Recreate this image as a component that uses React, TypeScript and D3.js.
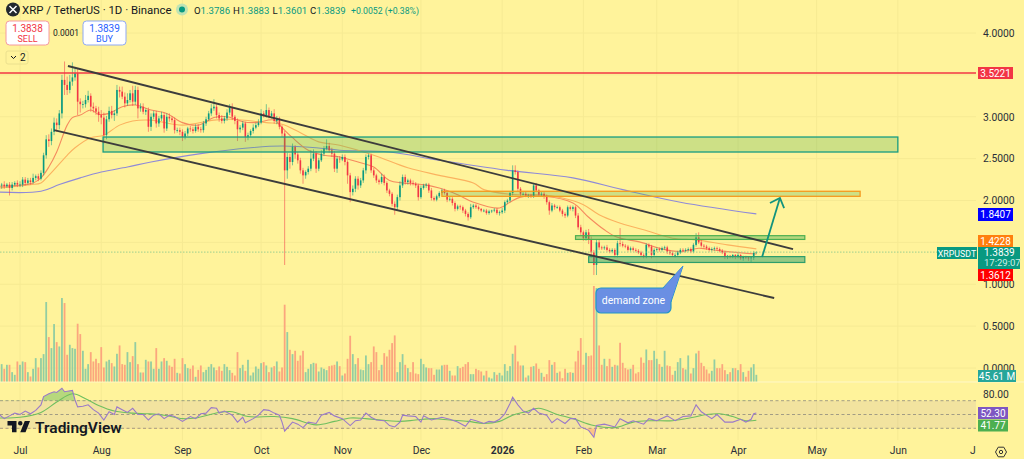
import { useRef, useEffect } from 'react'
import * as d3 from 'd3'

// daily candles from 2025-06-23
const closes = [
  2.18, 2.19, 2.17, 2.19, 2.15, 2.19, 2.21, 2.19, 2.19, 2.25,
  2.21, 2.24, 2.22, 2.27, 2.29, 2.26, 2.33, 2.54, 2.73, 2.71,
  2.82, 2.93, 2.90, 3.04, 3.44, 3.38, 3.32, 3.42, 3.47, 3.52,
  3.18, 3.15, 3.15, 3.20, 3.25, 3.12, 3.10, 3.06, 3.02, 2.99,
  2.78, 2.97, 3.07, 3.02, 3.04, 3.32, 3.30, 3.24, 3.16, 3.20,
  3.28, 3.18, 3.32, 3.10, 3.12, 3.06, 3.08, 2.88, 3.00, 3.04,
  2.92, 2.98, 3.02, 2.86, 3.00, 2.98, 2.96, 2.84, 2.84, 2.82,
  2.76, 2.80, 2.86, 2.85, 2.83, 2.88, 2.85, 2.84, 2.92, 2.97,
  3.04, 3.10, 3.12, 3.02, 2.98, 2.95, 2.98, 3.05, 3.11, 3.00,
  2.95, 2.85, 2.87, 2.92, 2.76, 2.78, 2.83, 2.87, 2.90, 2.93,
  3.04, 3.02, 3.08, 3.01, 3.04, 2.95, 2.98, 2.88, 2.80, 2.36,
  2.52, 2.46, 2.64, 2.55, 2.48, 2.36, 2.30, 2.34, 2.38, 2.50,
  2.56, 2.38, 2.48, 2.56, 2.62, 2.65, 2.60, 2.56, 2.38, 2.50,
  2.49, 2.52, 2.46, 2.30, 2.10, 2.14, 2.26, 2.18, 2.24, 2.36,
  2.52, 2.54, 2.36, 2.30, 2.24, 2.22, 2.28, 2.21, 2.12, 2.08,
  1.96, 1.92, 2.04, 2.18, 2.28, 2.22, 2.24, 2.21, 2.20, 2.18,
  2.04, 2.15, 2.18, 2.19, 2.12, 2.03, 2.01, 2.05, 2.09, 2.12,
  2.09, 2.01, 2.02, 1.97, 1.90, 1.93, 1.92, 1.88, 1.84, 1.80,
  1.92, 1.94, 1.92, 1.90, 1.88, 1.88, 1.85, 1.87, 1.88, 1.89,
  1.85, 1.86, 1.88, 1.98, 2.00, 2.09, 2.36, 2.34, 2.14, 2.08,
  2.08, 2.06, 2.06, 2.05, 2.18, 2.12, 2.07, 2.08, 2.05, 1.98,
  1.88, 1.94, 1.92, 1.92, 1.88, 1.84, 1.82, 1.92, 1.90, 1.92,
  1.82, 1.68, 1.62, 1.55, 1.62, 1.54, 1.38, 1.23, 1.50, 1.44,
  1.43, 1.44, 1.41, 1.39, 1.41, 1.35, 1.49, 1.48, 1.46, 1.45,
  1.41, 1.43, 1.41, 1.40, 1.38, 1.35, 1.34, 1.47, 1.45, 1.35,
  1.41, 1.42, 1.41, 1.43, 1.44, 1.39, 1.37, 1.35, 1.35, 1.38,
  1.41, 1.40, 1.41, 1.42, 1.39, 1.47, 1.56, 1.50, 1.46, 1.45,
  1.43, 1.41, 1.42, 1.43, 1.42, 1.40, 1.38, 1.33, 1.34, 1.33,
  1.35, 1.33, 1.35, 1.31, 1.33, 1.32, 1.31, 1.32, 1.3786, 1.3839,
]

// wick lengths past the body, in cents
const upperWicks = [
  3, 2, 4, 2, 3, 3, 2, 3, 4, 3,
  3, 3, 3, 5, 2, 3, 3, 3, 5, 6,
  4, 6, 5, 4, 6, 22, 10, 8, 18, 6,
  5, 4, 4, 6, 6, 3, 5, 3, 6, 6,
  6, 4, 5, 6, 4, 6, 4, 6, 5, 8,
  4, 9, 5, 4, 4, 4, 2, 3, 4, 3,
  3, 3, 4, 3, 4, 4, 3, 3, 3, 3,
  3, 3, 2, 3, 3, 3, 3, 3, 3, 3,
  3, 5, 9, 3, 3, 4, 3, 4, 4, 5,
  2, 3, 3, 3, 2, 3, 2, 4, 3, 4,
  5, 3, 7, 3, 3, 5, 3, 2, 2, 3,
  5, 4, 4, 2, 3, 3, 3, 2, 3, 10,
  5, 3, 3, 4, 3, 8, 4, 3, 3, 3,
  3, 3, 3, 2, 3, 4, 3, 3, 3, 3,
  3, 2, 2, 3, 2, 2, 4, 3, 2, 2,
  2, 3, 3, 5, 3, 3, 2, 2, 3, 2,
  2, 3, 2, 2, 2, 3, 2, 2, 2, 2,
  2, 2, 3, 2, 2, 2, 2, 2, 2, 2,
  4, 2, 2, 2, 1, 2, 2, 2, 1, 2,
  2, 2, 3, 2, 2, 2, 6, 6, 2, 2,
  2, 3, 2, 2, 3, 3, 2, 2, 2, 2,
  2, 3, 2, 2, 2, 2, 2, 2, 2, 2,
  2, 3, 3, 2, 3, 4, 3, 3, 4, 3,
  2, 2, 3, 2, 2, 2, 3, 18, 3, 2,
  2, 2, 2, 2, 2, 2, 2, 2, 2, 2,
  2, 2, 2, 2, 2, 2, 2, 2, 2, 2,
  2, 2, 2, 2, 2, 2, 5, 6, 3, 2,
  2, 2, 2, 2, 2, 2, 2, 2, 1, 1,
  1, 1, 2, 1, 1, 1, 1, 1, 2, 1,
]

const lowerWicks = [
  3, 4, 3, 2, 9, 3, 2, 3, 3, 3,
  3, 2, 3, 2, 3, 3, 2, 3, 4, 7,
  5, 4, 8, 5, 6, 12, 6, 4, 5, 4,
  16, 10, 5, 4, 3, 6, 5, 4, 8, 8,
  10, 5, 3, 4, 7, 3, 7, 3, 5, 3,
  3, 5, 4, 12, 4, 3, 4, 6, 5, 3,
  5, 4, 3, 5, 3, 4, 3, 4, 3, 4,
  5, 3, 3, 3, 3, 2, 3, 3, 3, 3,
  2, 3, 3, 4, 4, 3, 3, 3, 3, 4,
  4, 14, 4, 3, 6, 4, 2, 3, 2, 2,
  2, 3, 3, 3, 3, 3, 4, 3, 4, 113,
  10, 8, 4, 5, 4, 4, 10, 4, 3, 3,
  3, 5, 3, 2, 3, 2, 3, 4, 4, 5,
  4, 2, 4, 10, 12, 4, 4, 5, 3, 3,
  4, 3, 3, 3, 3, 3, 2, 3, 3, 3,
  3, 9, 4, 4, 3, 3, 3, 3, 2, 3,
  4, 2, 2, 3, 3, 3, 2, 2, 2, 2,
  2, 3, 2, 3, 3, 2, 3, 3, 3, 4,
  2, 2, 2, 2, 2, 2, 2, 2, 2, 2,
  2, 3, 2, 3, 2, 2, 3, 3, 3, 3,
  2, 2, 3, 2, 2, 2, 2, 2, 3, 3,
  5, 2, 3, 2, 2, 3, 3, 2, 2, 3,
  3, 3, 3, 3, 3, 6, 6, 12, 12, 3,
  2, 2, 2, 2, 2, 3, 3, 3, 2, 2,
  2, 2, 2, 2, 2, 2, 3, 3, 2, 4,
  2, 2, 2, 2, 2, 3, 2, 2, 3, 2,
  2, 2, 2, 2, 2, 2, 2, 2, 2, 2,
  2, 2, 2, 2, 2, 2, 2, 3, 3, 2,
  2, 3, 2, 2, 3, 2, 3, 5, 3, 2,
]

// volume has no axis in the picture, so these are relative readings (about 2.27M each)
const volumes = [
  45, 52, 38, 50, 50, 28, 20, 60, 50, 60,
  58, 28, 15, 38, 70, 42, 70, 82, 238, 133,
  100, 172, 118, 105, 250, 235, 80, 110, 100, 98,
  173, 142, 92, 38, 52, 88, 60, 68, 55, 103,
  42, 60, 65, 55, 45, 83, 108, 52, 50, 88,
  58, 76, 118, 52, 27, 27, 65, 60, 60, 38,
  100, 38, 60, 70, 62, 48, 44, 68, 26, 24,
  70, 52, 40, 38, 48, 14, 35, 48, 28, 35,
  44, 52, 42, 34, 45, 32, 52, 44, 34, 26,
  18, 88, 40, 50, 32, 65, 18, 27, 45, 38,
  55, 58, 48, 28, 42, 46, 60, 30, 42, 230,
  148, 95, 82, 92, 62, 78, 92, 28, 38, 52,
  56, 54, 30, 42, 38, 34, 46, 48, 50, 60,
  46, 18, 24, 68, 137, 82, 52, 70, 36, 34,
  78, 52, 58, 105, 88, 34, 50, 85, 75, 95,
  115, 138, 28, 58, 82, 50, 40, 28, 58, 24,
  22, 68, 52, 42, 40, 40, 20, 36, 36, 48,
  50, 50, 32, 18, 18, 46, 40, 44, 52, 58,
  22, 22, 38, 34, 30, 18, 32, 12, 9, 28,
  20, 26, 18, 52, 32, 46, 83, 108, 60, 48,
  48, 12, 18, 44, 46, 54, 38, 26, 14, 22,
  64, 50, 58, 26, 30, 10, 38, 26, 28, 26,
  60, 92, 130, 50, 86, 76, 78, 286, 280, 108,
  50, 68, 46, 68, 44, 50, 48, 116, 56, 40,
  36, 38, 50, 24, 28, 72, 56, 96, 64, 64,
  92, 68, 52, 44, 92, 48, 46, 20, 32, 58,
  70, 40, 36, 78, 24, 40, 84, 92, 56, 46,
  36, 24, 32, 66, 40, 40, 52, 34, 22, 28,
  40, 40, 34, 52, 28, 14, 32, 42, 52, 20,
]

// moving averages, read at the days where they bend
const fastDays = [0, 13, 16, 19, 22, 26, 28, 31, 35, 38, 42, 47, 52, 58, 64, 70, 76, 82, 87, 93, 98, 105, 108, 112, 118, 124, 130, 138, 143, 149, 154, 162, 168, 175, 181, 191, 195, 199, 208, 219, 225, 231, 236, 245, 252, 260, 267, 270, 278, 289]
const fastMa = [2.17, 2.21, 2.27, 2.40, 2.58, 2.90, 2.99, 3.02, 3.08, 3.03, 3.04, 3.12, 3.14, 3.08, 3.04, 2.93, 2.90, 2.99, 3.00, 2.94, 2.93, 2.96, 2.87, 2.75, 2.60, 2.54, 2.52, 2.45, 2.40, 2.24, 2.21, 2.19, 2.15, 2.07, 1.98, 1.91, 1.98, 2.04, 2.05, 1.97, 1.80, 1.65, 1.56, 1.50, 1.43, 1.39, 1.43, 1.42, 1.39, 1.3612]

const slowDays = [0, 12, 16, 19, 26, 29, 35, 40, 46, 51, 58, 70, 82, 89, 102, 108, 115, 122, 130, 143, 156, 168, 181, 185, 197, 205, 215, 223, 229, 236, 246, 257, 266, 278, 289]
const slowMa = [2.15, 2.19, 2.21, 2.30, 2.54, 2.63, 2.75, 2.78, 2.90, 2.95, 2.96, 2.90, 2.96, 2.97, 2.93, 2.91, 2.81, 2.70, 2.66, 2.54, 2.39, 2.30, 2.21, 2.13, 2.07, 2.07, 2.03, 1.95, 1.83, 1.74, 1.65, 1.55, 1.53, 1.47, 1.4228]

const longDays = [0, 16, 23, 31, 39, 49, 58, 77, 96, 108, 121, 130, 149, 168, 194, 219, 238, 260, 289]
const longMa = [2.10, 2.11, 2.19, 2.27, 2.34, 2.40, 2.46, 2.56, 2.63, 2.65, 2.63, 2.60, 2.58, 2.48, 2.36, 2.27, 2.13, 1.98, 1.8407]

const rsiDays = [0, 2, 4, 6, 8, 10, 12, 14, 16, 17, 19, 21, 22, 24, 25, 28, 29, 30, 32, 34, 36, 38, 40, 42, 44, 45, 47, 49, 51, 53, 55, 57, 59, 61, 63, 65, 67, 70, 73, 75, 77, 79, 81, 83, 84, 86, 88, 89, 91, 93, 94, 97, 99, 101, 103, 105, 107, 108, 109, 112, 114, 116, 118, 121, 123, 126, 128, 131, 134, 136, 138, 140, 142, 144, 147, 149, 151, 153, 154, 156, 159, 161, 162, 165, 169, 172, 175, 178, 180, 182, 185, 187, 189, 191, 193, 195, 196, 198, 200, 202, 204, 206, 209, 211, 213, 216, 218, 220, 222, 225, 227, 228, 231, 235, 237, 240, 242, 246, 248, 251, 255, 258, 261, 264, 266, 268, 272, 274, 277, 280, 283, 285, 287, 288, 289]
const rsi = [50, 44, 48, 52, 50, 55, 51, 56, 64, 76, 80, 83, 82, 88, 83, 85, 71, 61, 62, 64, 57, 52, 42, 54, 50, 61, 57, 53, 59, 50, 50, 42, 49, 51, 44, 49, 47, 40, 47, 44, 51, 52, 60, 59, 52, 55, 51, 49, 39, 46, 38, 44, 49, 57, 56, 52, 49, 39, 26, 39, 36, 31, 39, 37, 49, 53, 48, 44, 34, 41, 42, 52, 46, 42, 41, 34, 32, 39, 49, 48, 47, 39, 48, 42, 46, 43, 39, 33, 43, 41, 37, 40, 39, 43, 51, 66, 75, 64, 55, 52, 59, 52, 49, 38, 44, 37, 44, 44, 32, 27, 17, 34, 36, 32, 44, 38, 41, 36, 44, 41, 48, 41, 47, 48, 64, 54, 44, 50, 39, 39, 43, 39, 43, 51, 52.3]

const rsiMaDays = [0, 8, 16, 22, 28, 33, 38, 44, 51, 57, 63, 70, 75, 84, 89, 95, 105, 112, 121, 128, 134, 140, 153, 159, 166, 172, 179, 185, 191, 196, 201, 206, 213, 219, 227, 235, 242, 249, 257, 265, 270, 275, 280, 285, 289]
const rsiMa = [45, 46, 53, 68, 80, 73, 63, 55, 52, 51, 49, 44, 45, 53, 54, 47, 47, 44, 35, 40, 45, 44, 40, 42, 44, 42, 40, 37, 40, 49, 54, 59, 50, 44, 34, 31, 39, 41, 41, 46, 50, 51, 47, 41, 41.77]

const monthTicks = ['2025-07-01', '2025-08-01', '2025-09-01', '2025-10-01', '2025-11-01', '2025-12-01', '2026-01-01', '2026-02-01', '2026-03-01', '2026-04-01', '2026-05-01', '2026-06-01', '2026-07-01']
const priceTicks = [0, 0.5, 1, 2, 2.5, 3, 4]
const gridPrices = [0, 0.5, 1, 1.5, 2, 2.5, 3, 3.5, 4]
const rsiTicks = [80]

const quote = [
  { k: 'O', v: '1.3786', at: 194 },
  { k: 'H', v: '1.3883', at: 233 },
  { k: 'L', v: '1.3601', at: 272.5 },
  { k: 'C', v: '1.3839', at: 310 },
]

// drawings as [day, price] anchors
const channelTop = [[26.3, 3.606], [303, 1.42]]
const channelBottom = [[21, 2.84], [295.8, 0.836]]
const arrowPath = [[291.2, 1.325], [298, 2.03]]
const arrowHead = [[294.2, 1.97], [298, 2.03], [299.6, 1.91]]
const callout = { day: 261, price: 1.218 }

const zones = [
  { from: 39.7, to: 343, hi: 2.758, lo: 2.579, stroke: '#179c82', fill: 'rgba(76,175,80,0.28)', sw: 1.3 },
  { from: 169, to: 328.6, hi: 2.11, lo: 2.05, stroke: '#f59a1e', fill: 'rgba(76,175,80,0.28)', sw: 1.3 },
  { from: 220, to: 307.5, hi: 1.58, lo: 1.535, stroke: '#4caf50', fill: 'rgba(76,175,80,0.42)', sw: 1.2 },
  { from: 225, to: 307.5, hi: 1.33, lo: 1.26, stroke: '#2e9e6b', fill: 'rgba(46,158,107,0.5)', sw: 1.2 },
]

const axisLabels = [
  { text: '3.5221', y: 73, h: 12, w: 35, fill: '#f23645' },
  { text: '1.8407', y: 214.5, h: 13, w: 35, fill: '#0000ff' },
  { text: '1.4228', y: 241, h: 12, w: 35, fill: '#ff7f0e' },
  { text: '1.3612', y: 275, h: 12, w: 35, fill: '#ff0000' },
  { text: '45.61 M', y: 376, h: 12, w: 38, fill: '#26a69a' },
  { text: '52.30', y: 413, h: 12, w: 30, fill: '#7e57c2' },
  { text: '41.77', y: 425.5, h: 12, w: 30, fill: '#4caf50' },
]

const UP = '#089981'
const DOWN = '#f23645'
const BG = '#fff39b'
const FONT = "Roboto, 'Open Sans', sans-serif"

function App() {
  const ref = useRef<SVGSVGElement>(null)

  useEffect(() => {
    if (!ref.current) return
    const svg = d3.select(ref.current)
    svg.selectAll('*').remove()
    svg.attr('font-family', FONT)

    const width = 1024
    const height = 459
    const plotRight = 976

    const start = Date.UTC(2025, 5, 23)
    const toDate = (d: number) => new Date(start + d * 86400000)
    const x = d3.scaleUtc()
      .domain([new Date('2025-07-01'), new Date('2026-04-01')])
      .range([20, 738])
    const dayX = (d: number) => x(toDate(d))

    const y = d3.scaleLinear().domain([0, 4]).range([368, 33])
    const yVol = d3.scaleLinear().domain([0, 286]).range([381.5, 286])
    const yRsi = d3.scaleLinear().domain([30, 70]).range([428.3, 400.7])

    svg.append('rect').attr('width', width).attr('height', height).attr('fill', BG)

    const defs = svg.append('defs')
    defs.append('clipPath').attr('id', 'rsi-hi').append('rect')
      .attr('x', 0).attr('y', 380).attr('width', plotRight).attr('height', yRsi(70) - 380)
    defs.append('clipPath').attr('id', 'rsi-lo').append('rect')
      .attr('x', 0).attr('y', yRsi(30)).attr('width', plotRight).attr('height', 30)
    defs.append('clipPath').attr('id', 'time-clip').append('rect')
      .attr('x', 0).attr('y', 0).attr('width', plotRight).attr('height', 20)

    // grid
    const grid = svg.append('g').attr('stroke', '#f6ea93').attr('stroke-width', 1)
    monthTicks.forEach(t => {
      const px = x(new Date(t))
      if (px < plotRight) grid.append('line').attr('x1', px).attr('x2', px).attr('y1', 0).attr('y2', 440)
    })
    gridPrices.forEach(p => {
      grid.append('line').attr('x1', 0).attr('x2', plotRight).attr('y1', y(p)).attr('y2', y(p))
    })
    grid.append('line').attr('x1', 0).attr('x2', width).attr('y1', 382).attr('y2', 382)
      .attr('stroke', '#fff8c8')

    // volume
    svg.append('g').selectAll('rect').data(volumes).enter().append('rect')
      .attr('x', (_, i) => dayX(i) - 0.9)
      .attr('y', d => yVol(d))
      .attr('width', 1.8)
      .attr('height', d => yVol(0) - yVol(d))
      .attr('fill', (_, i) => (closes[i] >= (i ? closes[i - 1] : 2.16) ? '#93cda2' : '#fba67e'))

    // moving averages
    const drawMa = (days: number[], vals: number[], color: string, sw: number) => {
      const line = d3.line<number>()
        .x(d => dayX(d))
        .y((_, i) => y(vals[i]))
        .curve(d3.curveCatmullRom.alpha(0.5))
      svg.append('path').attr('d', line(days)).attr('fill', 'none')
        .attr('stroke', color).attr('stroke-width', sw)
    }
    drawMa(longDays, longMa, '#8f8ad8', 1.1)
    drawMa(slowDays, slowMa, '#fbb25f', 1.1)
    drawMa(fastDays, fastMa, '#f58a5e', 1.1)

    // candles
    const candles = svg.append('g')
    closes.forEach((c, i) => {
      const o = i ? closes[i - 1] : 2.16
      const color = c >= o ? UP : DOWN
      const px = dayX(i)
      const top = Math.max(o, c)
      const bot = Math.min(o, c)
      candles.append('line')
        .attr('x1', px).attr('x2', px)
        .attr('y1', y(top + upperWicks[i] / 100))
        .attr('y2', y(bot - lowerWicks[i] / 100))
        .attr('stroke', color).attr('stroke-opacity', 0.6).attr('stroke-width', 0.9)
      candles.append('rect')
        .attr('x', px - 0.8).attr('width', 1.6)
        .attr('y', y(top)).attr('height', Math.max(0.8, y(bot) - y(top)))
        .attr('fill', color)
    })

    // zones
    zones.forEach(z => {
      svg.append('rect')
        .attr('x', dayX(z.from)).attr('width', dayX(z.to) - dayX(z.from))
        .attr('y', y(z.hi)).attr('height', y(z.lo) - y(z.hi))
        .attr('fill', z.fill).attr('stroke', z.stroke).attr('stroke-width', z.sw)
    })

    // resistance and last price
    svg.append('line').attr('x1', 0).attr('x2', plotRight)
      .attr('y1', y(3.5221)).attr('y2', y(3.5221))
      .attr('stroke', '#f23645').attr('stroke-width', 1.5)
    svg.append('line').attr('x1', 0).attr('x2', plotRight)
      .attr('y1', y(1.3839)).attr('y2', y(1.3839))
      .attr('stroke', '#9ccf8f').attr('stroke-width', 1).attr('stroke-dasharray', '1.5,1.5')

    // channel
    const seg = d3.line<number[]>().x(d => dayX(d[0])).y(d => y(d[1]))
    ;[channelTop, channelBottom].forEach(c => {
      svg.append('path').attr('d', seg(c)).attr('fill', 'none')
        .attr('stroke', '#3c3c3c').attr('stroke-width', 1.9)
    })

    // arrow
    ;[arrowPath, arrowHead].forEach(a => {
      svg.append('path').attr('d', seg(a)).attr('fill', 'none')
        .attr('stroke', '#12937d').attr('stroke-width', 1.8)
    })

    // demand zone callout
    const cx = dayX(callout.day)
    const cy = y(callout.price)
    svg.append('path')
      .attr('d', `M${cx - 20},${cy + 22} L${cx},${cy} L${cx - 12},${cy + 36}`)
      .attr('fill', '#6a8fe3').attr('stroke', '#2b93cf').attr('stroke-width', 1)
    svg.append('rect')
      .attr('x', cx - 87).attr('y', cy + 22).attr('width', 75).attr('height', 25).attr('rx', 5)
      .attr('fill', '#6a8fe3').attr('stroke', '#2196c9').attr('stroke-width', 1.2)
    svg.append('path')
      .attr('d', `M${cx - 20},${cy + 23} L${cx},${cy} L${cx - 12.6},${cy + 36} Z`)
      .attr('fill', '#6a8fe3')
    svg.append('text').attr('x', cx - 49.5).attr('y', cy + 38).attr('text-anchor', 'middle')
      .attr('fill', '#fff').attr('font-size', 10.5).text('demand zone')

    // RSI pane
    svg.append('rect').attr('x', 0).attr('width', plotRight)
      .attr('y', yRsi(70)).attr('height', yRsi(30) - yRsi(70))
      .attr('fill', 'rgba(126,87,194,0.1)')
    ;[70, 50, 30].forEach(l => {
      svg.append('line').attr('x1', 0).attr('x2', plotRight).attr('y1', yRsi(l)).attr('y2', yRsi(l))
        .attr('stroke', '#8d8a7e').attr('stroke-width', 0.8).attr('stroke-dasharray', '3,2.5')
    })
    const rsiArea = (lvl: number) => d3.area<number>()
      .x(d => dayX(d)).y0(yRsi(lvl)).y1((_, i) => yRsi(rsi[i]))
    svg.append('path').attr('d', rsiArea(70)(rsiDays)).attr('clip-path', 'url(#rsi-hi)')
      .attr('fill', 'rgba(76,175,80,0.4)')
    svg.append('path').attr('d', rsiArea(30)(rsiDays)).attr('clip-path', 'url(#rsi-lo)')
      .attr('fill', 'rgba(242,54,69,0.25)')
    const rsiMaLine = d3.line<number>().x(d => dayX(d)).y((_, i) => yRsi(rsiMa[i]))
      .curve(d3.curveCatmullRom.alpha(0.5))
    svg.append('path').attr('d', rsiMaLine(rsiMaDays)).attr('fill', 'none')
      .attr('stroke', '#6fbf5f').attr('stroke-width', 1.1)
    const rsiLine = d3.line<number>().x(d => dayX(d)).y((_, i) => yRsi(rsi[i]))
    svg.append('path').attr('d', rsiLine(rsiDays)).attr('fill', 'none')
      .attr('stroke', '#9a79c9').attr('stroke-width', 1.1)

    // right axis
    const styleAxis = (g: d3.Selection<SVGGElement, unknown, null, undefined>) => {
      g.select('.domain').remove()
      g.selectAll('line').remove()
      g.selectAll('text').attr('font-family', FONT).attr('font-size', 10.3).attr('fill', '#2a2e39')
    }
    svg.append('g').attr('transform', 'translate(980,0)')
      .call(d3.axisRight(y).tickValues(priceTicks).tickFormat(d => d3.format('.4f')(+d)).tickSize(0).tickPadding(3) as any)
      .call(styleAxis as any)
    svg.append('g').attr('transform', 'translate(980,0)')
      .call(d3.axisRight(yRsi).tickValues(rsiTicks).tickFormat(d => d3.format('.2f')(+d)).tickSize(0).tickPadding(3) as any)
      .call(styleAxis as any)

    axisLabels.forEach(l => {
      svg.append('rect').attr('x', 978).attr('y', l.y - l.h / 2).attr('width', l.w).attr('height', l.h)
        .attr('fill', l.fill)
      svg.append('text').attr('x', 978 + l.w / 2).attr('y', l.y + 3.6).attr('text-anchor', 'middle')
        .attr('fill', '#fff').attr('font-size', 10).text(l.text)
    })

    // last price tag
    svg.append('rect').attr('x', 937).attr('y', 247).attr('width', 40).attr('height', 12).attr('fill', '#089981')
    svg.append('text').attr('x', 957).attr('y', 256.5).attr('text-anchor', 'middle')
      .attr('fill', '#fff').attr('font-size', 8.8).text('XRPUSDT')
    svg.append('rect').attr('x', 978).attr('y', 247).attr('width', 42).attr('height', 22).attr('fill', '#089981')
    svg.append('text').attr('x', 984).attr('y', 256.2).attr('fill', '#fff').attr('font-size', 10).text('1.3839')
    svg.append('text').attr('x', 984).attr('y', 266.2).attr('fill', '#cfeee6').attr('font-size', 9.5).text('17:29:07')

    // time axis
    const timeAxis = svg.append('g').attr('transform', 'translate(0,441)').attr('clip-path', 'url(#time-clip)')
    timeAxis.call(d3.axisBottom(x)
      .tickValues(monthTicks.map(t => new Date(t)))
      .tickFormat(d => {
        const dt = d as Date
        return dt.getUTCMonth() === 0 ? String(dt.getUTCFullYear()) : d3.utcFormat('%b')(dt)
      })
      .tickSize(0).tickPadding(6) as any)
      .call(styleAxis as any)
    timeAxis.selectAll('text')
      .attr('font-weight', d => ((d as Date).getUTCMonth() === 0 ? 700 : 400))

    // settings icon
    const gear = svg.append('g').attr('transform', 'translate(1001,452)').attr('fill', 'none').attr('stroke', '#333')
    gear.append('path').attr('d', 'M-5.5,0 L-2.8,-4.8 L2.8,-4.8 L5.5,0 L2.8,4.8 L-2.8,4.8 Z').attr('stroke-width', 1)
    gear.append('circle').attr('r', 1.7).attr('stroke-width', 1)

    // header
    const head = svg.append('g').attr('fill', '#131722')
    head.append('circle').attr('cx', 13).attr('cy', 9.5).attr('r', 7).attr('fill', '#23292f')
    head.append('path').attr('d', 'M9.5,6 L16.5,13 M16.5,6 L9.5,13').attr('stroke', '#fff').attr('stroke-width', 1.5)
    head.append('text').attr('x', 22).attr('y', 14).attr('font-size', 11.4).text('XRP / TetherUS · 1D · Binance')
    head.append('circle').attr('cx', 182).attr('cy', 9.5).attr('r', 6).attr('fill', '#bfe3b4')
    head.append('circle').attr('cx', 182).attr('cy', 9.5).attr('r', 3).attr('fill', '#089981')

    quote.forEach(q => {
      const t = head.append('text').attr('x', q.at).attr('y', 13.5).attr('font-size', 9.6)
      t.append('tspan').text(q.k)
      t.append('tspan').attr('fill', UP).text(q.v)
    })
    head.append('text').attr('x', 351).attr('y', 13.5).attr('font-size', 9.6).attr('fill', UP)
      .attr('textLength', 68).attr('lengthAdjust', 'spacingAndGlyphs').text('+0.0052 (+0.38%)')

    const tradeBox = (bx: number, price: string, side: string, color: string, border: string) => {
      svg.append('rect').attr('x', bx).attr('y', 21).attr('width', 43).attr('height', 24).attr('rx', 3.5)
        .attr('fill', '#fff').attr('stroke', border)
      svg.append('text').attr('x', bx + 21.5).attr('y', 31.5).attr('text-anchor', 'middle')
        .attr('fill', color).attr('font-size', 10).text(price)
      svg.append('text').attr('x', bx + 21.5).attr('y', 42).attr('text-anchor', 'middle')
        .attr('fill', color).attr('font-size', 9).text(side)
    }
    tradeBox(6, '1.3838', 'SELL', '#f23645', '#f59aa0')
    tradeBox(83, '1.3839', 'BUY', '#2962ff', '#8fa9f5')
    svg.append('text').attr('x', 66).attr('y', 35.5).attr('text-anchor', 'middle')
      .attr('font-size', 8.5).attr('fill', '#131722').text('0.0001')

    svg.append('rect').attr('x', 6).attr('y', 51).attr('width', 22).attr('height', 13).attr('rx', 2)
      .attr('fill', 'none').attr('stroke', '#ebe08e')
    svg.append('path').attr('d', 'M11,56 L13.5,58.5 L16,56').attr('fill', 'none').attr('stroke', '#131722')
    svg.append('text').attr('x', 20).attr('y', 61).attr('font-size', 10).attr('fill', '#131722').text('2')

    // watermark
    svg.append('path')
      .attr('d', 'M14 6H2v6h6v9h6V6Zm12 15h-7l6-15h7l-6 15Zm-7-9a3 3 0 1 0 0-6 3 3 0 0 0 0 6Z')
      .attr('transform', 'translate(6,416.5) scale(0.75)')
      .attr('fill', '#131722')
    svg.append('text').attr('x', 35).attr('y', 433).attr('font-size', 15.5).attr('font-weight', 600)
      .attr('fill', '#131722').text('TradingView')
  }, [])

  return <svg ref={ref} width={1024} height={459} style={{ position: 'absolute', left: 0, top: 0 }} />
}

export default App
